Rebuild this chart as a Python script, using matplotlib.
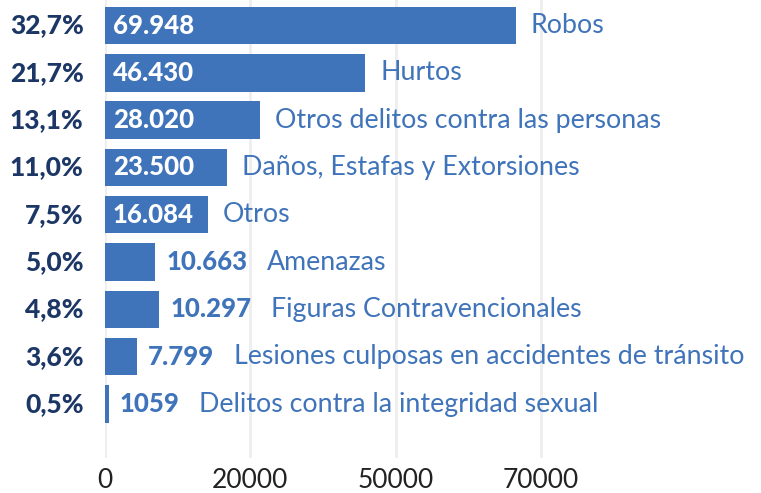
import matplotlib.pyplot as plt
import numpy as np

# categories top to bottom
categories = ["Robos", "Hurtos", "Otros delitos contra las personas",
              "Daños, Estafas y Extorsiones", "Otros", "Amenazas",
              "Figuras Contravencionales",
              "Lesiones culposas en accidentes de tránsito",
              "Delitos contra la integridad sexual"]
value_labels = ["69.948", "46.430", "28.020", "23.500", "16.084",
                "10.663", "10.297", "7.799", "1059"]
pct_labels = ["32,7%", "21,7%", "13,1%", "11,0%", "7,5%",
              "5,0%", "4,8%", "3,6%", "0,5%"]
# bar lengths as drawn in the picture (axis units)
bar_lengths = [56500, 35800, 21350, 16800, 14200, 6950, 7500, 4450, 600]
inside = [True, True, True, True, True, False, False, False, False]

tick_pos = [0, 20000, 40000, 60000]
tick_labels = ["0", "20000", "50000", "70000"]

blue = "#3f73ba"
navy = "#1c3766"
font = "Lato"

fig = plt.figure(figsize=(7.61, 4.93), dpi=100)
ax = fig.add_axes([104.5 / 761, 35 / 493, 655 / 761, 458 / 493])

y = np.arange(len(categories))
bars = ax.barh(y, bar_lengths, height=0.79, color=blue, zorder=2)

ax.set_ylim(len(categories) - 1 + 1.14, -0.54)
ax.set_xlim(0, 90000)
ax.set_xticks(tick_pos, tick_labels)
ax.set_yticks([])
ax.grid(axis="x", color="#eeeeee", linewidth=2, zorder=0)
ax.tick_params(axis="x", length=0, pad=7, labelsize=19, labelcolor="#222222")
for lab in ax.get_xticklabels():
    lab.set_fontfamily(font)
for s in ax.spines.values():
    s.set_visible(False)

for i, (b, v, p, c, ins) in enumerate(zip(bars, value_labels, pct_labels,
                                           categories, inside)):
    ax.annotate(p, xy=(0, i), xytext=(-15, 0), textcoords="offset points",
                ha="right", va="center", fontsize=19, fontweight="black",
                color=navy, family=font)
    end = b.get_width()
    if ins:
        ax.annotate(v, xy=(0, i), xytext=(6, 0), textcoords="offset points",
                    ha="left", va="center", fontsize=18.5, fontweight="black",
                    color="white", family=font)
        ax.annotate(c, xy=(end, i), xytext=(11, 0), textcoords="offset points",
                    ha="left", va="center", fontsize=19.3, color=blue,
                    family=font)
    else:
        t = ax.annotate(v, xy=(end, i), xytext=(8, 0),
                        textcoords="offset points", ha="left", va="center",
                        fontsize=18.5, fontweight="black", color=blue,
                        family=font)
        ax.annotate(c, xy=(1, 0.5), xycoords=t, xytext=(14, 0),
                    textcoords="offset points", ha="left", va="center",
                    fontsize=19.3, color=blue, family=font)

fig.savefig("out.png", dpi=100)
